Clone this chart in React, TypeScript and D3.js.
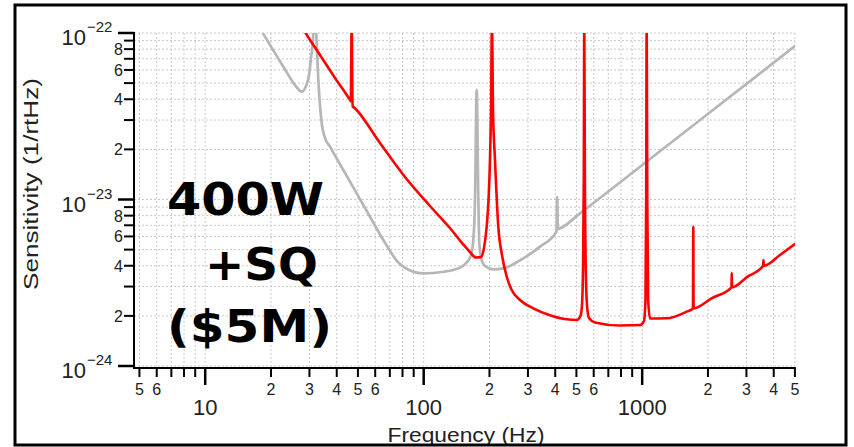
import React from 'react';
import * as d3 from 'd3';

// Reference (gray) curve
const grayFreq = [16.90, 18.20, 22.78, 25.76, 27.65, 28.93, 29.87, 30.50, 31.05, 31.64, 32.15, 32.94, 34.14, 35.35, 37.26, 42.86, 49.36, 56.78, 65.33, 68.65, 75.46, 84.76, 99.58, 122.9, 146.6, 157.8, 164.6, 168.7, 171.7, 174.8, 177.8, 179.7, 184.3, 190.8, 208.2, 231.4, 285.6, 340.6, 405.4, 408.3, 411.4, 420.6, 519.1, 1085.8, 2271, 5000];
const graySens = [1.197e-22, 1.018e-22, 6.27e-23, 4.87e-23, 4.44e-23, 4.81e-23, 5.59e-23, 7.08e-23, 8.71e-23, 1.282e-22, 1.042e-22, 5.22e-23, 2.87e-23, 2.34e-23, 2.076e-23, 1.503e-23, 1.089e-23, 7.88e-24, 5.71e-24, 5.15e-24, 4.27e-24, 3.80e-24, 3.60e-24, 3.68e-24, 3.90e-24, 4.21e-24, 4.64e-24, 5.71e-24, 9.93e-24, 4.55e-23, 1.039e-23, 5.45e-24, 4.33e-24, 3.99e-24, 3.81e-24, 3.86e-24, 4.43e-24, 5.21e-24, 6.42e-24, 1.039e-23, 6.65e-24, 6.71e-24, 8.26e-24, 1.750e-23, 3.72e-23, 8.35e-23];

// 400W + SQ (red) curve
const redFreq = [26.59, 28.63, 33.53, 39.28, 45.76, 46.39, 46.83, 47.28, 48.49, 63.10, 82.12, 106.9, 131.9, 151.3, 162.9, 173.5, 182.9, 188.8, 194.2, 198.0, 201.1, 203.3, 205.4, 207.6, 212.0, 219.5, 228.2, 239.9, 252.8, 275.9, 317.4, 378.4, 451.3, 501.5, 521.9, 530.3, 535.9, 540.4, 543.3, 546.8, 552.0, 559.0, 570.9, 608.1, 791.5, 977.2, 1019, 1035.4, 1043, 1048.6, 1055.2, 1065.3, 1085.8, 1294.6, 1598.4, 1708.0, 1713.6, 1719.2, 2087, 2563, 2570, 2578, 3017, 3579, 3590, 3601, 4273, 5000];
const redSens = [1.197e-22, 1.014e-22, 7.38e-23, 5.37e-23, 4.01e-23, 3.90e-23, 1.2e-22, 3.64e-23, 3.53e-23, 2.184e-23, 1.365e-23, 9.14e-24, 6.74e-24, 5.40e-24, 4.84e-24, 4.48e-24, 4.51e-24, 5.11e-24, 6.86e-24, 9.93e-24, 1.727e-23, 3.45e-23, 1.2e-22, 3.45e-23, 1.727e-23, 6.86e-24, 4.64e-24, 3.44e-24, 2.86e-24, 2.49e-24, 2.22e-24, 2.02e-24, 1.907e-24, 1.889e-24, 1.997e-24, 2.32e-24, 3.77e-24, 1.310e-23, 1.2e-22, 1.310e-23, 3.77e-24, 2.32e-24, 1.942e-24, 1.826e-24, 1.750e-24, 1.762e-24, 1.864e-24, 2.49e-24, 9.93e-24, 1.2e-22, 9.93e-24, 2.49e-24, 1.928e-24, 1.934e-24, 2.12e-24, 2.214e-24, 6.86e-24, 2.22e-24, 2.56e-24, 2.97e-24, 3.63e-24, 2.97e-24, 3.42e-24, 4.00e-24, 4.33e-24, 4.00e-24, 4.64e-24, 5.40e-24];

// Axis ticks
const xMajorTicks = [10, 100, 1000];
const xMajorLabels = ['10', '100', '1000'];
const xMinorTicks = [5, 6, 7, 8, 9, 20, 30, 40, 50, 60, 70, 80, 90, 200, 300, 400, 500, 600, 700, 800, 900, 2000, 3000, 4000, 5000];
const xMinorLabels = ['5', '6', '', '', '', '2', '3', '4', '5', '6', '', '', '', '2', '3', '4', '5', '6', '', '', '', '2', '3', '4', '5'];
const yMajorTicks = [1e-24, 1e-23, 1e-22];
const yMajorExps = ['\u221224', '\u221223', '\u221222'];
const yMinorTicks = [2e-24, 3e-24, 4e-24, 5e-24, 6e-24, 7e-24, 8e-24, 9e-24, 2e-23, 3e-23, 4e-23, 5e-23, 6e-23, 7e-23, 8e-23, 9e-23];
const yMinorLabels = ['2', '', '4', '', '6', '', '8', '', '2', '', '4', '', '6', '', '8', ''];

const W = 854;
const H = 447;
const L = 134, R = 794.9, T = 33, B = 366;
const AXY = 368;
const FONT = '"Liberation Sans", Arial, sans-serif';

export default function App() {
  const x = d3.scaleLog().domain([4.722, 5000]).range([L, R]);
  const y = d3.scaleLog().domain([1e-24, 1e-22]).range([B, T]);
  const line = d3.line<[number, number]>()
    .x(d => x(d[0]))
    .y(d => y(d[1]))
    .curve(d3.curveMonotoneX);
  const gray = grayFreq.map((f, i) => [f, graySens[i]] as [number, number]);
  const red = redFreq.map((f, i) => [f, redSens[i]] as [number, number]);
  const allX = [...xMajorTicks, ...xMinorTicks];
  const allY = [...yMajorTicks, ...yMinorTicks];

  return (
    <svg width={W} height={H} style={{ position: 'absolute', left: 0, top: 0, background: '#fff' }}>
      <defs>
        <clipPath id="plotclip">
          <rect x={L} y={T} width={R - L} height={B - T} />
        </clipPath>
      </defs>
      <rect x={0} y={0} width={W} height={H} fill="#fff" />
      {/* grid */}
      <g stroke="#c8c8c8" strokeWidth={1} strokeDasharray="2,2">
        {allX.map((t, i) => (
          <line key={'gx' + i} x1={x(t)} x2={x(t)} y1={T} y2={B} />
        ))}
        {allY.map((t, i) => (
          <line key={'gy' + i} x1={L} x2={R} y1={y(t)} y2={y(t)} />
        ))}
      </g>
      {/* curves */}
      <g clipPath="url(#plotclip)" fill="none" strokeLinejoin="round" strokeLinecap="round">
        <path d={line(gray) || ''} stroke="#b6b6b6" strokeWidth={2.7} />
        <path d={line(red) || ''} stroke="#ff0000" strokeWidth={2.6} />
      </g>
      {/* axes */}
      <g stroke="#000" strokeWidth={2}>
        <line x1={L} x2={L} y1={T - 1} y2={AXY + 1} />
        <line x1={L - 1} x2={R + 1} y1={AXY} y2={AXY} />
        {yMajorTicks.map((t, i) => (
          <line key={'ymt' + i} x1={118} x2={L} y1={y(t)} y2={y(t)} strokeWidth={2.5} />
        ))}
        {yMinorTicks.map((t, i) => (
          <line key={'ynt' + i} x1={124} x2={L} y1={y(t)} y2={y(t)} />
        ))}
        {xMajorTicks.map((t, i) => (
          <line key={'xmt' + i} x1={x(t)} x2={x(t)} y1={AXY} y2={385} strokeWidth={2.5} />
        ))}
        {xMinorTicks.map((t, i) => (
          <line key={'xnt' + i} x1={x(t)} x2={x(t)} y1={AXY} y2={377} />
        ))}
      </g>
      {/* tick labels */}
      <g fontFamily={FONT} fill="#222">
        {yMajorTicks.map((t, i) => (
          <g key={'yml' + i}>
            <text x={86} y={y(t) + 12} fontSize={22} textAnchor="end">10</text>
            <text x={87} y={y(t) - 1} fontSize={15} textAnchor="start">{yMajorExps[i]}</text>
          </g>
        ))}
        {yMinorTicks.map((t, i) => yMinorLabels[i] ? (
          <text key={'ynl' + i} x={123} y={y(t) + 6} fontSize={16} textAnchor="end">{yMinorLabels[i]}</text>
        ) : null)}
        {xMinorTicks.map((t, i) => xMinorLabels[i] ? (
          <text key={'xnl' + i} x={x(t)} y={395} fontSize={16} textAnchor="middle">{xMinorLabels[i]}</text>
        ) : null)}
        {xMajorTicks.map((t, i) => (
          <text key={'xml' + i} x={x(t)} y={415} fontSize={22} textAnchor="middle">{xMajorLabels[i]}</text>
        ))}
        <text x={466} y={442} fontSize={21} textAnchor="middle" textLength={157} lengthAdjust="spacingAndGlyphs">Frequency (Hz)</text>
        <text transform="translate(38,184) rotate(-90)" fontSize={21} textAnchor="middle" textLength={212} lengthAdjust="spacingAndGlyphs">Sensitivity (1/rtHz)</text>
      </g>
      {/* annotation */}
      <g fontFamily='"DejaVu Sans", Verdana, sans-serif' fontWeight="bold" fontSize={45} fill="#000">
        <text x={167} y={215} textLength={157} lengthAdjust="spacingAndGlyphs">400W</text>
        <text x={205} y={280} textLength={113} lengthAdjust="spacingAndGlyphs">+SQ</text>
        <text x={167} y={342} textLength={165} lengthAdjust="spacingAndGlyphs">($5M)</text>
      </g>
      {/* frame */}
      <rect x={15} y={5} width={831} height={440} fill="none" stroke="#000" strokeWidth={3} />
    </svg>
  );
}
